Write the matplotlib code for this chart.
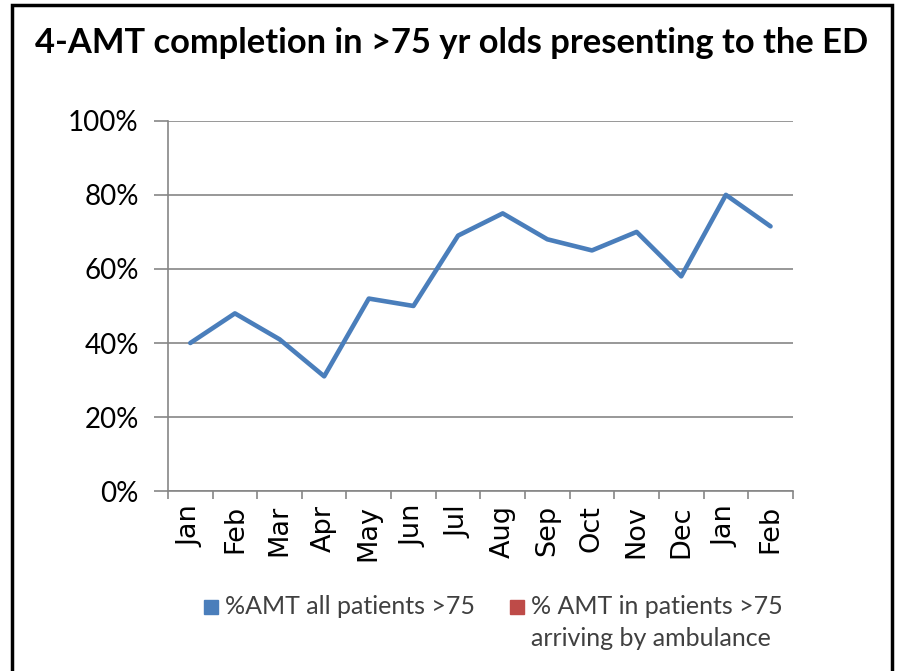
import matplotlib.pyplot as plt
from matplotlib.patches import Rectangle
from matplotlib.ticker import FuncFormatter

# data
months = ['Jan', 'Feb', 'Mar', 'Apr', 'May', 'Jun', 'Jul', 'Aug', 'Sep', 'Oct',
          'Nov', 'Dec', 'Jan', 'Feb']
amt_all = [0.40, 0.48, 0.41, 0.31, 0.52, 0.50, 0.69, 0.75, 0.68, 0.65,
           0.70, 0.58, 0.80, 0.715]
amt_ambulance = []  # no values shown
series_names = ['%AMT all patients >75', '% AMT in patients >75\narriving by ambulance']
title = '4-AMT completion in >75 yr olds presenting to the ED'

blue = '#4a7ebb'
red = '#be4b48'
grey = '#868686'

W, H = 903, 671
fig = plt.figure(figsize=(W / 100, H / 100), dpi=100)
ax = fig.add_axes([0.186, 0.268, 0.692, 0.552])

x = list(range(len(months)))
ax.plot(x, amt_all, color=blue, linewidth=3.3, solid_capstyle='round')
ax.plot(x[:len(amt_ambulance)], amt_ambulance, color=red, linewidth=3.3)

ax.set_xlim(-0.5, len(months) - 0.5)
ax.set_ylim(0, 1.0)
ax.set_yticks([0, 0.2, 0.4, 0.6, 0.8, 1.0])
ax.yaxis.set_major_formatter(FuncFormatter(lambda v, p: f'{v*100:.0f}%'))
ax.grid(axis='y', color=grey, linewidth=1.2)
ax.set_axisbelow(True)

ax.set_xticks([i - 0.5 for i in range(len(months) + 1)], minor=True)
ax.tick_params(axis='x', which='major', length=0, pad=10)
ax.tick_params(axis='x', which='minor', length=6, color=grey, width=1.2)
ax.tick_params(axis='y', length=10, color=grey, width=1.2, labelsize=20, pad=11)
ax.set_xticks(x)
ax.set_xticklabels(months, rotation=90, fontsize=19.5, family='DejaVu Sans')
for lbl in ax.get_yticklabels():
    lbl.set_family('Lato')

for s in ['top', 'right']:
    ax.spines[s].set_visible(False)
for s in ['left', 'bottom']:
    ax.spines[s].set_color(grey)
    ax.spines[s].set_linewidth(1.2)

fig.text(0.5, 1 - 43 / H, title, ha='center', va='center', fontsize=24.8,
         fontweight='bold', family='Lato')

# legend drawn by hand so the marker sits next to the first text line
for xp, col, name in [(211, blue, series_names[0]), (517, red, series_names[1])]:
    fig.patches.append(Rectangle(((xp - 7) / W, 1 - 614 / H), 14 / W, 14 / H,
                                 transform=fig.transFigure, color=col))
    fig.text((xp + 14) / W, 1 - 595 / H, name, ha='left', va='top',
             fontsize=18, family='Lato', color='#404040', linespacing=1.45)

# outer frame
fig.patches.append(Rectangle((12 / W, -0.05), 880 / W, 1 - 5 / H + 0.05,
                             transform=fig.transFigure, fill=False,
                             edgecolor='black', linewidth=2.5))

fig.savefig('out.png', dpi=100)
